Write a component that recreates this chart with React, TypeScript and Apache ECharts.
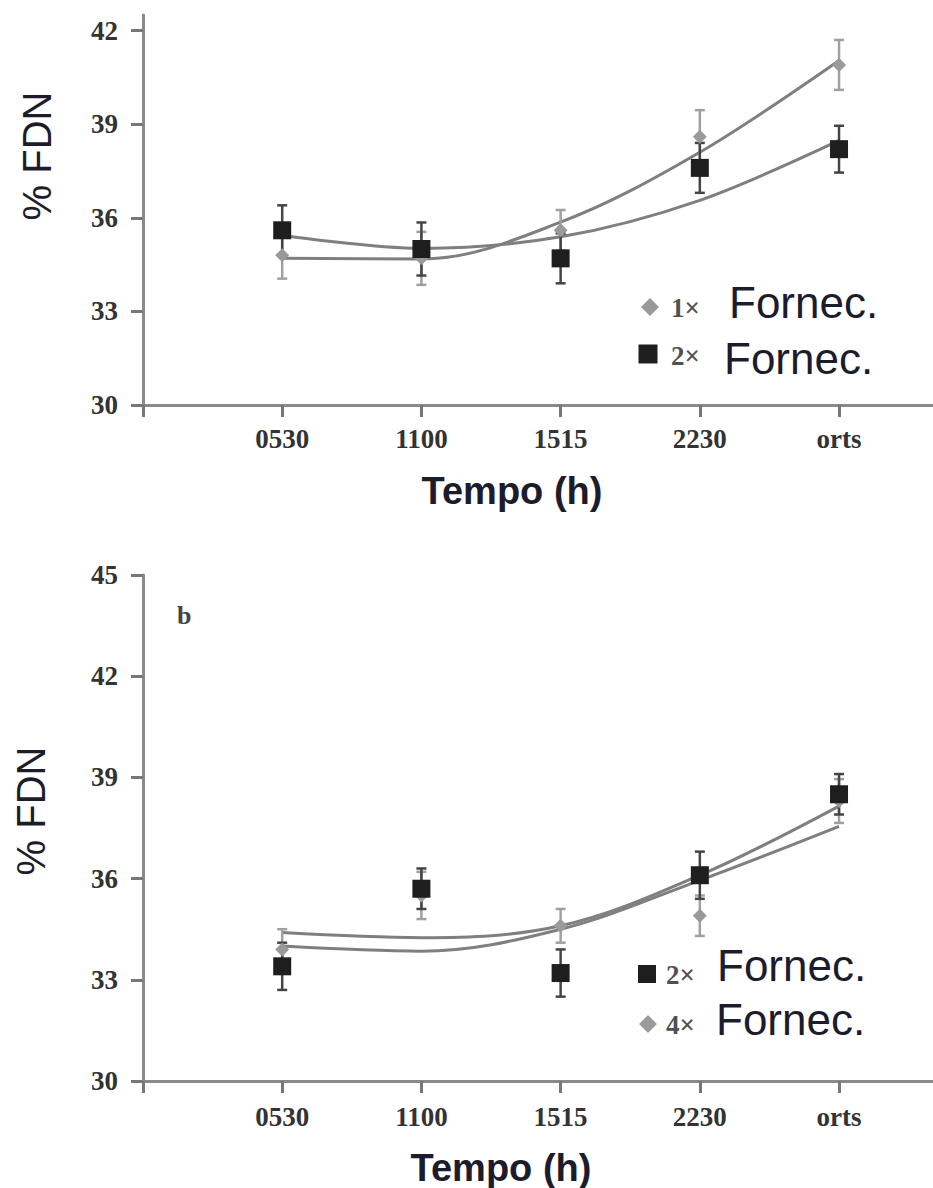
import React, { useEffect, useRef } from "react";
import * as echarts from "echarts";

// ---------- data ----------
const categories = ["0530", "1100", "1515", "2230", "orts"];
const xIndex = [0, 1, 2, 3, 4];

// top panel (1x vs 2x Fornec.)
const topOnceMean = [34.8, 34.7, 35.6, 38.6, 40.9];
const topOnceErr = [0.75, 0.85, 0.65, 0.85, 0.8];
const topTwiceMean = [35.6, 35.0, 34.7, 37.6, 38.2];
const topTwiceErr = [0.8, 0.85, 0.8, 0.8, 0.75];
const topOnceFit = [34.7, 34.68, 35.86, 38.1, 41.04];
const topTwiceFit = [35.44, 35.02, 35.39, 36.56, 38.48];
const topTicks = [30, 33, 36, 39, 42];

// bottom panel (2x vs 4x Fornec.)
const botTwiceMean = [33.4, 35.7, 33.2, 36.1, 38.5];
const botTwiceErr = [0.7, 0.6, 0.7, 0.7, 0.6];
const botFourMean = [33.9, 35.5, 34.6, 34.9, 38.3];
const botFourErr = [0.6, 0.7, 0.5, 0.6, 0.65];
const botTwiceFit = [34.4, 34.25, 34.6, 36.1, 38.15];
const botFourFit = [34.0, 33.85, 34.5, 35.95, 37.55];
const botTicks = [30, 33, 36, 39, 42, 45];

// ---------- helpers ----------
const pts = (vals: number[]) => vals.map((v, i) => [xIndex[i], v]);
const errs = (mean: number[], err: number[]) =>
  mean.map((v, i) => [xIndex[i], v - err[i], v + err[i]]);

const errorBar = (color: string) => (params: any, api: any) => {
  const x = api.value(0);
  const lo = api.coord([x, api.value(1)]);
  const hi = api.coord([x, api.value(2)]);
  const cap = 5;
  const st = { stroke: color, lineWidth: 2.5 };
  return {
    type: "group",
    children: [
      { type: "line", shape: { x1: lo[0], y1: lo[1], x2: hi[0], y2: hi[1] }, style: st },
      { type: "line", shape: { x1: lo[0] - cap, y1: lo[1], x2: lo[0] + cap, y2: lo[1] }, style: st },
      { type: "line", shape: { x1: hi[0] - cap, y1: hi[1], x2: hi[0] + cap, y2: hi[1] }, style: st },
    ],
  };
};

const SERIF = '"Liberation Serif", "Times New Roman", serif';
const SANS = '"Liberation Sans", Arial, sans-serif';
const AXIS_COLOR = "#8a8a8a";
const TICK_COLOR = "#777777";
const LABEL_COLOR = "#333333";
const TITLE_COLOR = "#1c1c2c";
const LINE_COLOR = "#7f7f7f";
const BLACK = "#1e1e1e";
const GRAY = "#9a9a9a";

const xAxisFor = (gridIndex: number, margin: number) => ({
  type: "value",
  gridIndex,
  min: -1,
  max: 4.675,
  interval: 1,
  axisLine: { show: true, onZero: false, lineStyle: { color: AXIS_COLOR, width: 3 } },
  axisTick: {
    show: true,
    customValues: [-1, 0, 1, 2, 3, 4],
    length: 12,
    lineStyle: { color: TICK_COLOR, width: 3 },
  },
  axisLabel: {
    customValues: xIndex,
    formatter: (v: number) => categories[Math.round(v)] ?? "",
    margin,
    color: LABEL_COLOR,
    fontFamily: SERIF,
    fontWeight: "bold",
    fontSize: 27,
  },
  splitLine: { show: false },
});

const yAxisFor = (gridIndex: number, max: number, ticks: number[]) => ({
  type: "value",
  gridIndex,
  min: 30,
  max,
  interval: 3,
  axisLine: { show: true, onZero: false, lineStyle: { color: AXIS_COLOR, width: 3 } },
  axisTick: {
    show: true,
    customValues: ticks,
    length: 12,
    lineStyle: { color: TICK_COLOR, width: 3 },
  },
  axisLabel: {
    customValues: ticks,
    margin: 25,
    color: LABEL_COLOR,
    fontFamily: SERIF,
    fontWeight: "bold",
    fontSize: 27,
  },
  splitLine: { show: false },
});

const seriesFor = (
  idx: number,
  grayMean: number[],
  grayErr: number[],
  blackMean: number[],
  blackErr: number[],
  fitA: number[],
  fitB: number[]
) => [
  {
    type: "line",
    xAxisIndex: idx,
    yAxisIndex: idx,
    data: pts(fitA),
    smooth: 0.35,
    showSymbol: false,
    lineStyle: { color: LINE_COLOR, width: 3 },
    z: 2,
  },
  {
    type: "line",
    xAxisIndex: idx,
    yAxisIndex: idx,
    data: pts(fitB),
    smooth: 0.35,
    showSymbol: false,
    lineStyle: { color: LINE_COLOR, width: 3 },
    z: 2,
  },
  {
    type: "custom",
    xAxisIndex: idx,
    yAxisIndex: idx,
    renderItem: errorBar("#a0a0a0"),
    encode: { x: 0, y: [1, 2] },
    data: errs(grayMean, grayErr),
    z: 3,
  },
  {
    type: "custom",
    xAxisIndex: idx,
    yAxisIndex: idx,
    renderItem: errorBar("#444444"),
    encode: { x: 0, y: [1, 2] },
    data: errs(blackMean, blackErr),
    z: 3,
  },
  {
    type: "scatter",
    xAxisIndex: idx,
    yAxisIndex: idx,
    data: pts(grayMean),
    symbol: "diamond",
    symbolSize: 14,
    itemStyle: { color: GRAY, opacity: 1 },
    z: 4,
  },
  {
    type: "scatter",
    xAxisIndex: idx,
    yAxisIndex: idx,
    data: pts(blackMean),
    symbol: "rect",
    symbolSize: 18,
    itemStyle: { color: BLACK, opacity: 1 },
    z: 5,
  },
];

const txt = (
  text: string,
  x: number,
  y: number,
  font: string,
  fill: string,
  align: string = "left",
  rotation: number = 0
) => ({
  type: "text",
  x,
  y,
  rotation,
  style: {
    text,
    font,
    fill,
    align,
    verticalAlign: "middle",
    textAlign: align,
    textVerticalAlign: "middle",
  },
  z: 10,
});

const diamond = (cx: number, cy: number, r: number) => ({
  type: "polygon",
  shape: { points: [[cx, cy - r], [cx + r, cy], [cx, cy + r], [cx - r, cy]] },
  style: { fill: GRAY },
  z: 10,
});
const square = (cx: number, cy: number, s: number) => ({
  type: "rect",
  shape: { x: cx - s / 2, y: cy - s / 2, width: s, height: s },
  style: { fill: BLACK },
  z: 10,
});

const FORNEC_FONT = `44px ${SANS}`;
const MULT_FONT = `bold 27px ${SERIF}`;
const TITLE_FONT = `bold 38px ${SANS}`;
const YNAME_FONT = `40px ${SANS}`;

export default function App() {
  const ref = useRef<HTMLDivElement>(null);
  useEffect(() => {
    document.body.style.margin = "0";
    const chart = echarts.init(ref.current!, null, { renderer: "svg" });
    chart.setOption({
      animation: false,
      backgroundColor: "#ffffff",
      grid: [
        { left: 143, width: 790, top: 15, height: 390 },
        { left: 143, width: 790, top: 575, height: 506 },
      ],
      xAxis: [xAxisFor(0, 20), xAxisFor(1, 22)],
      yAxis: [yAxisFor(0, 42.5, topTicks), yAxisFor(1, 45, botTicks)],
      series: [
        ...seriesFor(0, topOnceMean, topOnceErr, topTwiceMean, topTwiceErr, topOnceFit, topTwiceFit),
        ...seriesFor(1, botFourMean, botFourErr, botTwiceMean, botTwiceErr, botFourFit, botTwiceFit),
      ],
      graphic: [
        // axis titles
        txt("% FDN", 37, 156, YNAME_FONT, TITLE_COLOR, "center", Math.PI / 2),
        txt("Tempo (h)", 512, 491, TITLE_FONT, TITLE_COLOR, "center"),
        txt("% FDN", 31, 811, YNAME_FONT, TITLE_COLOR, "center", Math.PI / 2),
        txt("Tempo (h)", 501, 1168, TITLE_FONT, TITLE_COLOR, "center"),
        txt("b", 177, 615, `bold 26px ${SERIF}`, "#444444", "left"),
        // top legend
        diamond(650, 307, 9),
        txt("1×", 671, 308, MULT_FONT, "#505050"),
        txt("Fornec.", 729, 302, FORNEC_FONT, TITLE_COLOR),
        square(648, 354, 19),
        txt("2×", 671, 356, MULT_FONT, "#505050"),
        txt("Fornec.", 724, 358, FORNEC_FONT, TITLE_COLOR),
        // bottom legend
        square(647, 974, 18),
        txt("2×", 666, 975, MULT_FONT, "#505050"),
        txt("Fornec.", 717, 965, FORNEC_FONT, TITLE_COLOR),
        diamond(648, 1024, 9),
        txt("4×", 666, 1025, MULT_FONT, "#505050"),
        txt("Fornec.", 716, 1019, FORNEC_FONT, TITLE_COLOR),
      ],
    });
    return () => chart.dispose();
  }, []);
  return <div ref={ref} style={{ width: 933, height: 1188 }} />;
}
